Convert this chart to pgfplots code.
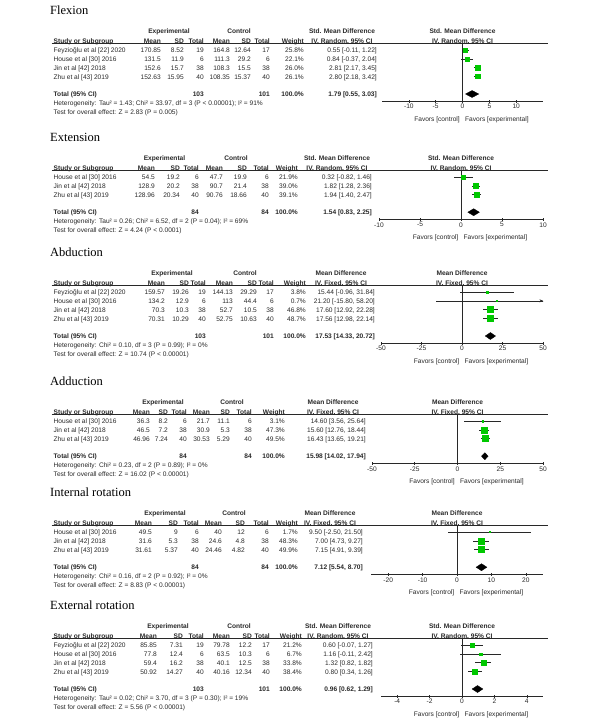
\documentclass[border=0pt]{standalone}
\usepackage{pgfplots}
\usepackage{pgfplotstable}
\pgfplotsset{compat=1.18}
\usepackage{fontspec}
\setmainfont{Liberation Sans}
\newfontfamily\serif{Liberation Serif}
\usetikzlibrary{arrows.meta}
\definecolor{rmgreen}{RGB}{0,200,0}
\definecolor{ink}{RGB}{40,40,40}

% r = row, e = estimate, l/h = 95% CI, w = weight (%)
\pgfplotstableread{
r e l h w
1 0.55 -0.11 1.22 25.8
2 0.84 -0.37 2.04 22.1
3 2.81 2.17 3.45 26.0
4 2.80 2.18 3.42 26.1
}\flexion
\pgfplotstableread{
r e l h w
1 0.32 -0.82 1.46 21.9
2 1.82 1.28 2.36 39.0
3 1.94 1.40 2.47 39.1
}\extension
\pgfplotstableread{
r e l h w
1 15.44 -0.96 31.84 3.8
2 21.20 -15.80 58.20 0.7
3 17.60 12.92 22.28 46.8
4 17.56 12.98 22.14 48.7
}\abduction
\pgfplotstableread{
r e l h w
1 14.60 3.56 25.64 3.1
2 15.60 12.76 18.44 47.3
3 16.43 13.65 19.21 49.5
}\adduction
\pgfplotstableread{
r e l h w
1 9.50 -2.50 21.50 1.7
2 7.00 4.73 9.27 48.3
3 7.15 4.91 9.39 49.9
}\internal
\pgfplotstableread{
r e l h w
1 0.60 -0.07 1.27 21.2
2 1.16 -0.11 2.42 6.7
3 1.32 0.82 1.82 33.8
4 0.80 0.34 1.26 38.4
}\external

\newcommand\fs{\fontsize{6.6}{7.6}\selectfont}
\tikzset{t/.style={inner sep=0pt, font=\fs, text=ink}}
\newcommand\TL[3]{\node[t, anchor=mid west] at (#1pt,{-(\oy+#2)*1pt}) {#3};}
\newcommand\TR[3]{\node[t, anchor=mid east] at (#1pt,{-(\oy+#2)*1pt}) {#3};}
\newcommand\TC[3]{\node[t, anchor=mid] at (#1pt,{-(\oy+#2)*1pt}) {#3};}
\newcommand\setcols[8]{\def\colA{#1}\def\colB{#2}\def\colC{#3}\def\colD{#4}%
  \def\colE{#5}\def\colF{#6}\def\colG{#7}\def\colH{#8}}
\newcommand\Ttl[1]{\node[anchor=base west, inner sep=0pt, font=\fontsize{12.5}{14}\serif]
  at (50pt,{-(\oy+14.5)*1pt}) {#1};}
\newcommand\Hdr[5]{%
  \TC{#1}{31}{\bfseries Experimental}\TC{#2}{31}{\bfseries Control}%
  \TC{#3}{31}{\bfseries #4}\TC{\z}{31}{\bfseries #4}%
  \TL{53.5}{40.5}{\bfseries Study or Subgroup}%
  \TR{\colA}{40.5}{\bfseries Mean}\TR{\colB}{40.5}{\bfseries SD}\TR{\colC}{40.5}{\bfseries Total}%
  \TR{\colD}{40.5}{\bfseries Mean}\TR{\colE}{40.5}{\bfseries SD}\TR{\colF}{40.5}{\bfseries Total}%
  \TR{\colG}{40.5}{\bfseries Weight}\TC{#3}{40.5}{\bfseries #5}\TC{\z}{40.5}{\bfseries #5}%
  \draw[ink, line width=0.6pt] (51.5pt,{-(\oy+43.5)*1pt}) -- (548pt,{-(\oy+43.5)*1pt});}
\newcommand\Row[9]{%
  \TL{53.5}{\ry}{#1}\TR{\colA}{\ry}{#2}\TR{\colB}{\ry}{#3}\TR{\colC}{\ry}{#4}%
  \TR{\colD}{\ry}{#5}\TR{\colE}{\ry}{#6}\TR{\colF}{\ry}{#7}\TR{\colG}{\ry}{#8}%
  \TR{\colH}{\ry}{#9}\pgfmathsetmacro\ry{\ry+8.8}}
\newcommand\Tot[4]{\pgfmathsetmacro\ty{50+8.8*(#1+1)}%
  \TL{53.5}{\ty}{\bfseries Total (95\% CI)}\TR{\colC}{\ty}{\bfseries #2}%
  \TR{\colF}{\ty}{\bfseries #3}\TR{\colG}{\ty}{\bfseries 100.0\%}\TR{\colH}{\ty}{\bfseries #4}}
\newcommand\Foot[2]{\pgfmathsetmacro\hy{\ty+9}\TL{53.5}{\hy}{#1}%
  \pgfmathsetmacro\hy{\ty+18}\TL{53.5}{\hy}{#2}%
  \pgfmathsetmacro\hy{\ty+24.5}\pgfmathsetmacro\zr{\z-2.5}\pgfmathsetmacro\zl{\z+2.5}%
  \TR{\zr}{\hy}{Favors [control]}\TL{\zl}{\hy}{Favors [experimental]}%
  \pgfmathsetmacro\ay{-(\oy+43.5)}}

\pgfplotsset{
  fp/.style={scale only axis, anchor=north west, axis x line=bottom, axis y line=none,
    axis line style={-, line width=0.6pt, ink}, major tick length=3pt, tick align=center,
    xtick style={line width=0.6pt, ink}, xticklabel style={font=\fs, text=ink, inner sep=1.5pt},
    /pgf/number format/assume math mode=true},
  sq/.style={scatter, only marks, mark=square*,
    scatter/use mapped color={draw=rmgreen, fill=rmgreen},
    visualization depends on={0.43*sqrt(\thisrow{w}) \as \ms},
    scatter/@pre marker code/.append style={/tikz/mark size=\ms},
    error bars/x dir=both, error bars/x explicit, error bars/error mark=none,
    error bars/error bar style={line width=0.5pt, draw=ink}},
  zl/.style={ink, line width=0.6pt, mark=none},
  dm/.style={fill=black, draw=black, line width=0.3pt, mark=none},
}
\newcommand\whisk[1]{\addplot[sq] table[x=e, y expr=-\thisrow{r},
  x error minus expr=\thisrow{e}-\thisrow{l}, x error plus expr=\thisrow{h}-\thisrow{e}] {#1};}

\begin{document}
\begin{tikzpicture}
\useasboundingbox (0pt,0pt) rectangle (602pt,-723pt);

% ---------------- Flexion
\def\oy{0}\def\z{462.5}
\setcols{161}{184}{204}{230}{251}{270}{304}{377}
\Ttl{Flexion}
\Hdr{169}{239}{342}{Std. Mean Difference}{IV, Random, 95\% CI}
\def\ry{50}
\Row{Feyzioğlu et al [22] 2020}{170.85}{8.52}{19}{164.8}{12.64}{17}{25.8\%}{0.55 [-0.11, 1.22]}
\Row{House et al [30] 2016}{131.5}{11.9}{6}{111.3}{29.2}{6}{22.1\%}{0.84 [-0.37, 2.04]}
\Row{Jin et al [42] 2018}{152.6}{15.7}{38}{108.3}{15.5}{38}{26.0\%}{2.81 [2.17, 3.45]}
\Row{Zhu et al [43] 2019}{152.63}{15.95}{40}{108.35}{15.37}{40}{26.1\%}{2.80 [2.18, 3.42]}
\Tot{4}{103}{101}{1.79 [0.55, 3.03]}
\Foot{Heterogeneity: Tau² = 1.43; Chi² = 33.97, df = 3 (P < 0.00001); I² = 91\%}{Test for overall effect: Z = 2.83 (P = 0.005)}
\begin{axis}[fp, at={(382pt,\ay pt)}, width=161pt, height=57.55pt,
  xmin=-15, xmax=15, ymin=-6.8, ymax=-0.26, xtick={-10,-5,0,5,10}]
\addplot[zl] coordinates {(0,-0.26) (0,-6.8)};
\whisk{\flexion}
\addplot[dm] coordinates {(0.55,-6) (1.79,-5.6) (3.03,-6) (1.79,-6.4) (0.55,-6)};
\end{axis}

% ---------------- Extension
\def\oy{127}\def\z{461}
\setcols{155}{180}{199}{223}{247}{269}{298}{372}
\Ttl{Extension}
\Hdr{164.5}{236}{337}{Std. Mean Difference}{IV, Random, 95\% CI}
\def\ry{50}
\Row{House et al [30] 2016}{54.5}{19.2}{6}{47.7}{19.9}{6}{21.9\%}{0.32 [-0.82, 1.46]}
\Row{Jin et al [42] 2018}{128.9}{20.2}{38}{90.7}{21.4}{38}{39.0\%}{1.82 [1.28, 2.36]}
\Row{Zhu et al [43] 2019}{128.96}{20.34}{40}{90.76}{18.66}{40}{39.1\%}{1.94 [1.40, 2.47]}
\Tot{3}{84}{84}{1.54 [0.83, 2.25]}
\Foot{Heterogeneity: Tau² = 0.26; Chi² = 6.52, df = 2 (P = 0.04); I² = 69\%}{Test for overall effect: Z = 4.24 (P < 0.0001)}
\begin{axis}[fp, at={(379pt,\ay pt)}, width=164pt, height=48.75pt,
  xmin=-10, xmax=10, ymin=-5.8, ymax=-0.26, xtick={-10,-5,0,5,10}]
\addplot[zl] coordinates {(0,-0.26) (0,-5.8)};
\whisk{\extension}
\addplot[dm] coordinates {(0.83,-5) (1.54,-4.6) (2.25,-5) (1.54,-5.4) (0.83,-5)};
\end{axis}

% ---------------- Abduction
\def\oy{242}\def\z{462}
\setcols{165}{189}{206}{233}{257}{274}{306}{375}
\Ttl{Abduction}
\Hdr{172}{245}{341}{Mean Difference}{IV, Fixed, 95\% CI}
\def\ry{50}
\Row{Feyzioğlu et al [22] 2020}{159.57}{19.26}{19}{144.13}{29.29}{17}{3.8\%}{15.44 [-0.96, 31.84]}
\Row{House et al [30] 2016}{134.2}{12.9}{6}{113}{44.4}{6}{0.7\%}{21.20 [-15.80, 58.20]}
\Row{Jin et al [42] 2018}{70.3}{10.3}{38}{52.7}{10.5}{38}{46.8\%}{17.60 [12.92, 22.28]}
\Row{Zhu et al [43] 2019}{70.31}{10.29}{40}{52.75}{10.63}{40}{48.7\%}{17.56 [12.98, 22.14]}
\Tot{4}{103}{101}{17.53 [14.33, 20.72]}
\Foot{Heterogeneity: Chi² = 0.10, df = 3 (P = 0.99); I² = 0\%}{Test for overall effect: Z = 10.74 (P < 0.00001)}
\begin{axis}[fp, at={(381pt,\ay pt)}, width=162pt, height=57.55pt,
  xmin=-50, xmax=50, ymin=-6.8, ymax=-0.26, xtick={-50,-25,0,25,50}]
\addplot[zl] coordinates {(0,-0.26) (0,-6.8)};
\whisk{\abduction}
\addplot[ink, line width=0.5pt, -{Stealth[length=3.5pt,width=3pt]}] coordinates {(40,-2) (50,-2)};
\addplot[dm] coordinates {(14.33,-6) (17.53,-5.6) (20.72,-6) (17.53,-6.4) (14.33,-6)};
\end{axis}

% ---------------- Adduction
\def\oy{371}\def\z{457.5}
\setcols{150}{168}{187}{210}{230}{252}{285}{366}
\Ttl{Adduction}
\Hdr{163}{232}{333}{Mean Difference}{IV, Fixed, 95\% CI}
\def\ry{50}
\Row{House et al [30] 2016}{36.3}{8.2}{6}{21.7}{11.1}{6}{3.1\%}{14.60 [3.56, 25.64]}
\Row{Jin et al [42] 2018}{46.5}{7.2}{38}{30.9}{5.3}{38}{47.3\%}{15.60 [12.76, 18.44]}
\Row{Zhu et al [43] 2019}{46.96}{7.24}{40}{30.53}{5.29}{40}{49.5\%}{16.43 [13.65, 19.21]}
\Tot{3}{84}{84}{15.98 [14.02, 17.94]}
\Foot{Heterogeneity: Chi² = 0.23, df = 2 (P = 0.89); I² = 0\%}{Test for overall effect: Z = 16.02 (P < 0.00001)}
\begin{axis}[fp, at={(372pt,\ay pt)}, width=171pt, height=48.75pt,
  xmin=-50, xmax=50, ymin=-5.8, ymax=-0.26, xtick={-50,-25,0,25,50}]
\addplot[zl] coordinates {(0,-0.26) (0,-5.8)};
\whisk{\adduction}
\addplot[dm] coordinates {(14.02,-5) (15.98,-4.6) (17.94,-5) (15.98,-5.4) (14.02,-5)};
\end{axis}

% ---------------- Internal rotation
\def\oy{482}\def\z{457}
\setcols{152}{178}{199}{222}{245}{269}{298}{363}
\Ttl{Internal rotation}
\Hdr{165}{234}{330}{Mean Difference}{IV, Fixed, 95\% CI}
\def\ry{50}
\Row{House et al [30] 2016}{49.5}{9}{6}{40}{12}{6}{1.7\%}{9.50 [-2.50, 21.50]}
\Row{Jin et al [42] 2018}{31.6}{5.3}{38}{24.6}{4.8}{38}{48.3\%}{7.00 [4.73, 9.27]}
\Row{Zhu et al [43] 2019}{31.61}{5.37}{40}{24.46}{4.82}{40}{49.9\%}{7.15 [4.91, 9.39]}
\Tot{3}{84}{84}{7.12 [5.54, 8.70]}
\Foot{Heterogeneity: Chi² = 0.16, df = 2 (P = 0.92); I² = 0\%}{Test for overall effect: Z = 8.83 (P < 0.00001)}
\begin{axis}[fp, at={(371pt,\ay pt)}, width=172pt, height=48.75pt,
  xmin=-25, xmax=25, ymin=-5.8, ymax=-0.26, xtick={-20,-10,0,10,20}]
\addplot[zl] coordinates {(0,-0.26) (0,-5.8)};
\whisk{\internal}
\addplot[dm] coordinates {(5.54,-5) (7.12,-4.6) (8.70,-5) (7.12,-5.4) (5.54,-5)};
\end{axis}

% ---------------- External rotation
\def\oy{595}\def\z{462}
\setcols{157}{183}{204}{230}{252}{270}{302}{373}
\Ttl{External rotation}
\Hdr{168}{239}{338}{Std. Mean Difference}{IV, Random, 95\% CI}
\def\ry{50}
\Row{Feyzioğlu et al [22] 2020}{85.85}{7.31}{19}{79.78}{12.2}{17}{21.2\%}{0.60 [-0.07, 1.27]}
\Row{House et al [30] 2016}{77.8}{12.4}{6}{63.5}{10.3}{6}{6.7\%}{1.16 [-0.11, 2.42]}
\Row{Jin et al [42] 2018}{59.4}{16.2}{38}{40.1}{12.5}{38}{33.8\%}{1.32 [0.82, 1.82]}
\Row{Zhu et al [43] 2019}{50.92}{14.27}{40}{40.16}{12.34}{40}{38.4\%}{0.80 [0.34, 1.26]}
\Tot{4}{103}{101}{0.96 [0.62, 1.29]}
\Foot{Heterogeneity: Tau² = 0.02; Chi² = 3.70, df = 3 (P = 0.30); I² = 19\%}{Test for overall effect: Z = 5.56 (P < 0.00001)}
\begin{axis}[fp, at={(381pt,\ay pt)}, width=162pt, height=57.55pt,
  xmin=-5, xmax=5, ymin=-6.8, ymax=-0.26, xtick={-4,-2,0,2,4}]
\addplot[zl] coordinates {(0,-0.26) (0,-6.8)};
\whisk{\external}
\addplot[dm] coordinates {(0.62,-6) (0.96,-5.6) (1.29,-6) (0.96,-6.4) (0.62,-6)};
\end{axis}
\end{tikzpicture}
\end{document}
